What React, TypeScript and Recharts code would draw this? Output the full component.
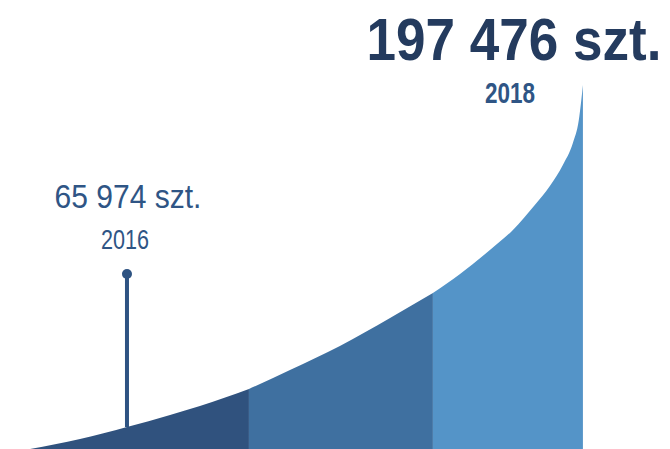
import React from 'react';
import {
  ComposedChart,
  Area,
  XAxis,
  YAxis,
  ReferenceLine,
  ReferenceDot,
} from 'recharts';

// curve: year (fractional) -> pieces (szt.)
const years = [
  2015.575, 2015.794, 2016.0, 2016.189, 2016.32, 2016.535, 2016.715, 2016.934,
  2017.154, 2017.342, 2017.461, 2017.592, 2017.693, 2017.789, 2017.855,
  2017.912, 2017.956, 2017.982, 2018.0,
];
const pieces = [
  0, 5425, 11935, 18445, 23328, 32550, 42858, 55878, 71068, 84630, 94938,
  107958, 118808, 132370, 142678, 154070, 166005, 178483, 197476,
];
// colour bands split at these years
const bandBreaks = [2016.535, 2017.342];
const bandColors = ['#30527e', '#3f70a0', '#5494c8'];

const pinYear = 2016;
const pinTop = 94938;
const pinLabel = '65 974 szt.';
const pinYearLabel = '2016';
const endYear = 2018;
const endValue = 197476;
const endLabel = '197 476 szt.';
const endYearLabel = '2018';

const bandOf = (x: number) => (x <= bandBreaks[0] ? 0 : x <= bandBreaks[1] ? 1 : 2);

const data = years.map((year, i) => {
  const row: { [key: string]: number | null } = { year, b0: null, b1: null, b2: null };
  const b = bandOf(year);
  row[`b${b}`] = pieces[i];
  // shared boundary points so bands touch
  if (year === bandBreaks[0]) row.b1 = pieces[i];
  if (year === bandBreaks[1]) row.b2 = pieces[i];
  return row;
});

const FONT = '"Liberation Sans Narrow", "Liberation Sans", sans-serif';

const PinLabel = (props: any) => {
  const { viewBox } = props;
  const cx = viewBox.x + viewBox.width / 2;
  const cy = viewBox.y + viewBox.height / 2;
  return (
    <g>
      <text
        x={cx + 1}
        y={cy - 66}
        textAnchor="middle"
        fill="#2f5585"
        fontFamily={FONT}
        fontSize={33}
        textLength={147}
        lengthAdjust="spacingAndGlyphs"
      >
        {pinLabel}
      </text>
      <text
        x={cx - 2}
        y={cy - 25}
        textAnchor="middle"
        fill="#2f5585"
        fontFamily={FONT}
        fontSize={28}
        textLength={48}
        lengthAdjust="spacingAndGlyphs"
      >
        {pinYearLabel}
      </text>
    </g>
  );
};

const EndLabel = (props: any) => {
  const { viewBox } = props;
  const cx = viewBox.x + viewBox.width / 2;
  const cy = viewBox.y + viewBox.height / 2;
  return (
    <g>
      <text
        x={cx - 69}
        y={cy - 25}
        textAnchor="middle"
        fill="#243b5e"
        fontFamily={FONT}
        fontWeight={700}
        fontSize={59}
        textLength={295}
        lengthAdjust="spacingAndGlyphs"
      >
        {endLabel}
      </text>
      <text
        x={cx - 73}
        y={cy + 18}
        textAnchor="middle"
        fill="#2f5585"
        fontFamily={FONT}
        fontWeight={700}
        fontSize={29}
        textLength={50}
        lengthAdjust="spacingAndGlyphs"
      >
        {endYearLabel}
      </text>
    </g>
  );
};

export default function App() {
  return (
    <div style={{ width: 670, height: 449 }}>
      <style>{'body{margin:0}'}</style>
      <ComposedChart
        width={670}
        height={449}
        data={data}
        margin={{ top: 0, right: 0, bottom: 0, left: 0 }}
      >
        <XAxis
          dataKey="year"
          type="number"
          domain={[2015.443, 2018.382]}
          hide
        />
        <YAxis type="number" domain={[0, 243582]} hide />
        {bandColors.map((c, i) => (
          <Area
            key={i}
            dataKey={`b${i}`}
            type="monotone"
            fill={c}
            fillOpacity={1}
            stroke="none"
            isAnimationActive={false}
            activeDot={false}
          />
        ))}
        <ReferenceLine
          segment={[
            { x: pinYear, y: pieces[years.indexOf(pinYear)] },
            { x: pinYear, y: pinTop },
          ]}
          stroke="#2e5382"
          strokeWidth={4}
        />
        <ReferenceDot
          x={pinYear}
          y={pinTop}
          r={5}
          fill="#2e5382"
          stroke="none"
          label={<PinLabel />}
        />
        <ReferenceDot
          x={endYear}
          y={endValue}
          r={0}
          fill="none"
          stroke="none"
          label={<EndLabel />}
        />
      </ComposedChart>
    </div>
  );
}
